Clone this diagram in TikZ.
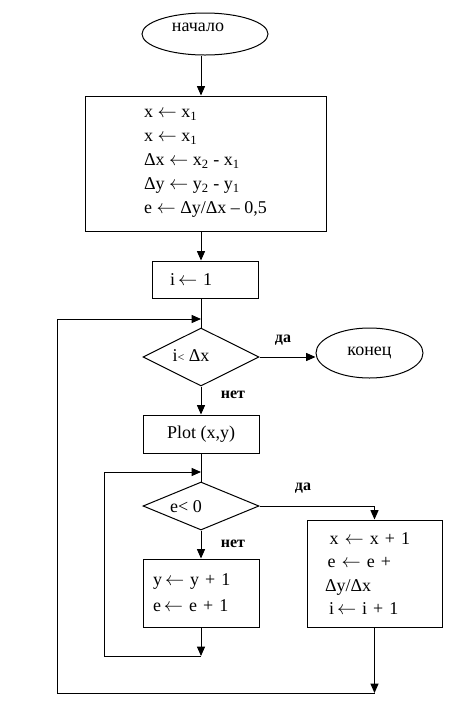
\documentclass[tikz,border=0pt]{standalone}
\usepackage{fontspec}
\setmainfont{Liberation Serif}
\usetikzlibrary{shapes.geometric,arrows.meta}
\newcommand{\la}{\ensuremath{\leftarrow}}
\begin{document}
\begin{tikzpicture}[x=0.75pt,y=-0.75pt,line width=0.75pt,
  every node/.style={font=\fontsize{13.5}{16}\selectfont,inner sep=0pt},
  box/.style={draw,rectangle},
  ell/.style={draw,ellipse},
  dia/.style={draw,diamond},
  arr/.style={-{Triangle[length=7pt,width=6pt]}},
  lbl/.style={font=\fontsize{12}{14}\selectfont\bfseries}]
\useasboundingbox (0,0) rectangle (466,704);
\coordinate (col) at (201,0);
% start
\node[ell,minimum width=94.5pt,minimum height=31.5pt] (start) at (205,34) {};
\node (startt) at (198,27) {начало};
% init box
\node[box,minimum width=180.75pt,minimum height=101.25pt,align=left,
  font=\fontsize{13.5}{18}\selectfont] (b1) at (205.5,163.5)
  {x \la{} x\textsubscript{1}\\
   x \la{} x\textsubscript{1}\\
   Δx \la{} x\textsubscript{2} - x\textsubscript{1}\\
   Δy \la{} y\textsubscript{2} - y\textsubscript{1}\\
   e \la{} Δy/Δx – 0,5};
% i <- 1
\node[box,text width=52.5pt,inner xsep=13.5pt,minimum height=27.75pt,align=left] (b2) at (205,279.5) {i\,\la{} 1};
% diamond 1
\node[dia,minimum width=87pt,minimum height=43.5pt] (d1) at (201,357) {};
\node (d1t) at (191,356) {i{\small<} Δx};
% end
\node[ell,minimum width=80.25pt,minimum height=37.5pt] (end) at (369.5,353) {конец};
% plot
\node[box,minimum width=87pt,minimum height=28.5pt] (plot) at (201,434) {Plot (x,y)};
% diamond 2
\node[dia,minimum width=87pt,minimum height=36pt] (d2) at (201,506) {};
\node (d2t) at (186,507) {e< 0};
% left box
\node[box,text width=72pt,inner xsep=7.5pt,minimum height=51pt,align=left,
  font=\fontsize{13.5}{19.5}\selectfont] (lb) at (201,593)
  {y\,\la{} y + 1\\ e\,\la{} e + 1};
% right box
\node[box,text width=74.25pt,inner xsep=13.5pt,minimum height=80.25pt,align=left,
  font=\fontsize{13.5}{17.5}\selectfont] (rb) at (374.5,573.5)
  {\hspace*{3.5pt}x \la{} x + 1\\ \hspace*{2pt}e \la{} e +\\ Δy/Δx\\ \hspace*{3pt}i\,\la{} i + 1};
% labels
\node[lbl] (l1) at (283,340) {да};
\node[lbl] (l2) at (233,395) {нет};
\node[lbl] (l3) at (303,488) {да};
\node[lbl] (l4) at (233,544) {нет};
% coordinates for loops
\coordinate (j1) at (201,319);
\coordinate (j2) at (201,472);
\coordinate (c1) at (201,656);
\coordinate (c2) at (374.5,693);
% connectors
\draw[arr] (start.south -| col) -- (b1.north -| col);
\draw[arr] (b1.south -| col) -- (b2.north -| col);
\draw (b2.south -| col) -- (d1.north);
\draw[arr] (d1.east) -- (d1.east -| end.west);
\draw[arr] (d1.south) -- (plot.north);
\draw (plot.south) -- (d2.north);
\draw[arr] (d2.east) -- (d2.east -| rb.north) -- (rb.north);
\draw[arr] (d2.south) -- (lb.north);
\draw[arr] (lb.south) -- (c1);
\draw[arr] (c1) -- (104,656) -- (104,472) -- (j2);
\draw[arr] (rb.south) -- (c2);
\draw[arr] (c2) -- (57,693) -- (57,319) -- (j1);
\end{tikzpicture}
\end{document}
